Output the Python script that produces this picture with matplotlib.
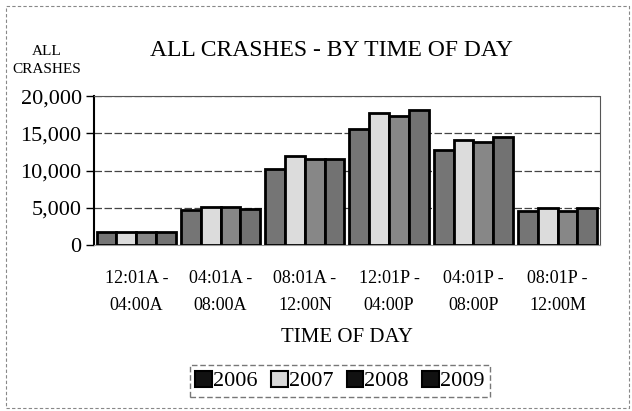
import numpy as np
import matplotlib.pyplot as plt
from matplotlib.patches import Rectangle

categories = ['12:01A -\n04:00A', '04:01A -\n08:00A', '08:01A -\n12:00N',
              '12:01P -\n04:00P', '04:01P -\n08:00P', '08:01P -\n12:00M']
years = ['2006', '2007', '2008', '2009']
crashes = {
    '2006': [1700, 4700, 10200, 15600, 12700, 4600],
    '2007': [1700, 5100, 12000, 17800, 14100, 5000],
    '2008': [1700, 5100, 11600, 17400, 13800, 4600],
    '2009': [1700, 4800, 11600, 18100, 14500, 5000],
}
colours = ['#757575', '#dcdcdc', '#878787', '#727272']
legend_colours = ['#111111', '#d8d8d8', '#111111', '#111111']

plt.rcParams['font.family'] = ['Liberation Serif', 'DejaVu Serif']

fig = plt.figure(figsize=(6.32, 4.11), dpi=100)
ax = fig.add_axes([0.149, 0.404, 0.800, 0.362])

x = np.arange(len(categories))
w = 0.235
for i, yr in enumerate(years):
    ax.bar(x + (i - 1.5) * w, crashes[yr], width=w, color=colours[i],
           edgecolor='black', linewidth=2.0, zorder=3)

ax.set_xlim(-0.5, len(categories) - 0.5)
ax.set_ylim(0, 20000)
ax.set_yticks([0, 5000, 10000, 15000, 20000])
ax.set_yticklabels(['0', '5,000', '10,000', '15,000', '20,000'], fontsize=16)
ax.set_xticks(x)
ax.set_xticklabels(categories, fontsize=13, linespacing=1.75)
ax.tick_params(axis='x', length=0, pad=18)
ax.tick_params(axis='y', length=6, width=1, direction='out', pad=3)
ax.yaxis.grid(True, linestyle=(0, (6, 2)), color='#444444', linewidth=0.9, zorder=0)

for side in ['top', 'right']:
    ax.spines[side].set_linestyle((0, (2, 1)))
    ax.spines[side].set_color('#555555')
ax.spines['left'].set_linewidth(1.5)
ax.spines['bottom'].set_color('#999999')

ax.set_xlabel('TIME OF DAY', fontsize=15, labelpad=10)
fig.text(0.525, 0.876, 'ALL CRASHES - BY TIME OF DAY', fontsize=17,
         ha='center', va='center')
fig.text(0.074, 0.854, 'ALL\nCRASHES', fontsize=11, ha='center', va='center',
         linespacing=1.5)

handles = [Rectangle((0, 0), 1, 1, fc=c, ec='black', lw=1.5) for c in legend_colours]
leg = fig.legend(handles, years, loc='center', bbox_to_anchor=(0.538, 0.073),
                 ncol=4, fontsize=16, frameon=True, fancybox=False,
                 handlelength=0.75, handleheight=0.75, handletextpad=0.05,
                 columnspacing=0.6, borderpad=0.25, borderaxespad=0)
leg.get_frame().set_edgecolor('#555555')
leg.get_frame().set_linewidth(1.0)
leg.get_frame().set_linestyle((0, (4, 2)))

# faint dashed border around the whole chart
fig.add_artist(Rectangle((0.01, 0.008), 0.985, 0.978, transform=fig.transFigure,
                         fill=False, ec='#888888', lw=0.8, ls=(0, (3, 2))))

fig.savefig('out.png', dpi=100)
